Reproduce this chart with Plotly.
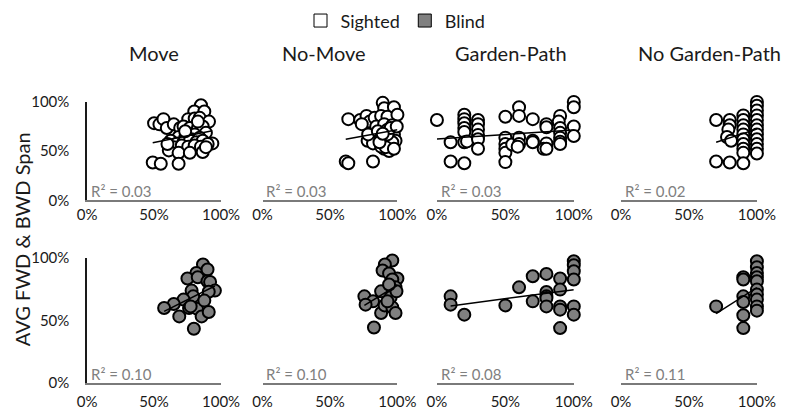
import numpy as np
import plotly.graph_objects as go

conditions = ["Move", "No-Move", "Garden-Path", "No Garden-Path"]
groups = ["Sighted", "Blind"]
r2_sighted = ["R² = 0.03", "R² = 0.03", "R² = 0.03", "R² = 0.02"]
r2_blind = ["R² = 0.10", "R² = 0.10", "R² = 0.08", "R² = 0.11"]
x_tick_vals = [0, 0.5, 1]
y_tick_vals = [0, 0.5, 1]
y_title = "AVG FWD & BWD Span"

# ---- Sighted (values in %) ----
move_sighted_x = [85, 80, 87.5, 50, 54, 57, 59.5, 64.7, 69.5, 75.5, 80.3, 84, 91, 72, 76.7, 82.7, 86.3, 74.3, 80.3, 88.7,
                  68.3, 73.2, 78, 84, 62.4, 67, 72, 76.7, 81.5, 86.3, 93.5, 90, 64.7, 70.7, 75.5, 80.3, 85, 61, 68.3, 76.7,
                  86.3, 88.7, 49, 55, 68.3, 82.7, 73.2, 60]
move_sighted_y = [96.6, 90.3, 90.3, 78.4, 77.2, 82.5, 73.5, 77.2, 73.5, 82.5, 83.2, 83.8, 80, 75.1, 73.5, 73.5, 75.1, 68.6,
                  67, 68.6, 64.4, 63.7, 62.1, 63.7, 60.5, 57.9, 59, 60.5, 59, 60.5, 57.9, 57.3, 54.1, 55.7, 54.6, 55.7,
                  54.6, 50.8, 48.3, 48.3, 49.2, 54.1, 38.5, 37.3, 37.3, 80, 70.2, 57.3]

nomove_sighted_x = [89.1, 90.2, 97.4, 63.6, 72.4, 77.1, 79.5, 83.1, 87.9, 92.6, 100, 84.3, 90.2, 96.2, 77.9, 81.9, 78.3, 85.5,
                    92.6, 97.4, 87.9, 93.8, 98.6, 89.1, 95, 90.2, 93.8, 87.9, 96.2, 92.6, 95, 61.7, 63.6, 81.9, 91.4, 86.7,
                    97.4, 89.1, 99.5, 73.6]
nomove_sighted_y = [99, 93.5, 94.5, 82.5, 81.6, 85.8, 80, 83.8, 85.8, 84.9, 87, 75.1, 77.4, 76.3, 60.5, 57.9, 67, 70.2,
                    71.8, 67, 63.7, 62.1, 60.5, 57.3, 55.7, 52.5, 50.2, 54.6, 59.1, 67, 73.4, 39.5, 37.8, 39.5, 54.1, 59.1,
                    52.5, 67.6, 75.1, 77.4]

gp_sighted_x = [0, 10, 10, 20, 20, 20, 20, 20, 20, 22, 20, 30, 30, 30, 30, 30, 30, 50, 50, 50, 50, 50, 50, 55,
                60, 60, 60, 60, 59, 70, 70, 70, 80, 80, 80, 78, 80, 90, 89, 90, 90, 90, 90, 90, 100, 100, 100, 100]
gp_sighted_y = [81.6, 59, 39.5, 87, 82.5, 78.3, 73.5, 69.5, 59, 59.9, 37.8, 81.6, 77.4, 71.9, 66.5, 62.1, 52.5,
                84.9, 63.7, 57.3, 52.5, 48.3, 38.9, 56.7, 94.5, 85.8, 63.7, 57.3, 54.6, 82.5, 60.5, 59, 77.4, 74.2, 57.9,
                52.5, 52.5, 85.8, 80, 73.5, 68.6, 63.7, 59.5, 57.3, 100, 94.5, 75.1, 65.4]

ngp_sighted_x = [70, 70, 80, 80, 79, 78, 81, 80, 90, 90, 90, 90, 90, 90, 90, 90, 90, 90,
                 100, 100, 100, 100, 100, 100, 100, 100, 100, 100, 100, 100]
ngp_sighted_y = [81.6, 39.5, 81.6, 76.3, 71.9, 64.4, 60.5, 38.5, 86.3, 81.6, 76.3, 71.9, 67, 62.1, 57.3, 52.5, 48.3, 37.8,
                 100, 96.1, 91.2, 86.3, 81.6, 76.3, 71.9, 67, 62.1, 57.3, 52.5, 47.6]

# ---- Blind (values in %) ----
move_blind_x = [86.5, 81.6, 89.9, 74.9, 82.6, 89.9, 91.8, 95.4, 90.8, 78, 79.2, 72, 64.7, 57.5, 76.1, 82, 87.5, 68.8,
                85.5, 90.8, 79.7, 77.3]
move_blind_y = [94.7, 88, 90.7, 83.5, 84.5, 81.3, 80.8, 73.9, 73, 73.9, 69.3, 66.7, 63.2, 60, 60, 59.5, 65.9, 53.3,
                53.3, 56.8, 43.5, 61.3]

nomove_blind_x = [96.2, 90.7, 89, 93.8, 100, 96.2, 98.6, 95, 87.9, 75.5, 81.9, 76.4, 87.9, 90.5, 95, 96.2, 98.6, 92.6,
                  82.6, 99.3, 93.8]
nomove_blind_y = [97.9, 94.7, 89.9, 87.5, 83.5, 82.7, 76.5, 73.3, 73.3, 69.3, 65.3, 62.7, 56, 62.1, 68.5, 60.5, 56, 65.3,
                  44.5, 73.3, 78.7]

gp_blind_x = [10, 10, 20, 50, 60, 70, 70, 80, 80, 80, 80, 80, 90, 90, 90, 90, 90, 100, 100, 100, 100, 100, 100]
gp_blind_y = [69.3, 62.7, 54.7, 62.1, 76.5, 85.3, 65.3, 87.2, 72.8, 69.3, 68, 61.3, 83.5, 74.7, 61.3, 58.7, 44,
              97.3, 94.1, 89.3, 82.7, 61.3, 54.7]

ngp_blind_x = [70, 90, 90, 90, 90, 90, 90, 100, 100, 100, 100, 100, 100, 100, 100, 100, 100]
ngp_blind_y = [61.3, 84.5, 82.7, 69.3, 64.8, 54.2, 44, 97.3, 92.5, 88, 84.5, 81.3, 74.7, 70.7, 66.7, 61.3, 57.9]

sighted_data = [(move_sighted_x, move_sighted_y), (nomove_sighted_x, nomove_sighted_y),
                (gp_sighted_x, gp_sighted_y), (ngp_sighted_x, ngp_sighted_y)]
blind_data = [(move_blind_x, move_blind_y), (nomove_blind_x, nomove_blind_y),
              (gp_blind_x, gp_blind_y), (ngp_blind_x, ngp_blind_y)]

W, H = 800, 419
FONT = "Lato, 'Open Sans', sans-serif"
x_pix = [(80, 219), (262, 402), (443, 585), (634, 775)]
y_pix = [(96, 199), (259, 390)]  # (top=100%, bottom=0%)
x_standoff = [0, 4]
fills = ["#ffffff", "#808080"]

fig = go.Figure()

# legend entries
for g, fc in zip(groups, fills):
    fig.add_trace(go.Scatter(x=[None], y=[None], mode="markers", name=g,
                             marker=dict(symbol="square", size=13, color=fc, line=dict(color="#000", width=1)),
                             showlegend=True, hoverinfo="skip"))

layout_axes = {}
annotations = []
for r, (data, r2s, fc) in enumerate([(sighted_data, r2_sighted, fills[0]), (blind_data, r2_blind, fills[1])]):
    for c in range(4):
        n = r * 4 + c + 1
        xs = np.array(data[c][0], dtype=float) / 100
        ys = np.array(data[c][1], dtype=float) / 100
        xa = "x" if n == 1 else f"x{n}"
        ya = "y" if n == 1 else f"y{n}"
        fig.add_trace(go.Scatter(x=xs, y=ys, mode="markers", xaxis=xa, yaxis=ya, showlegend=False,
                                 cliponaxis=False,
                                 marker=dict(symbol="circle", size=12, color=fc,
                                             line=dict(color="#000", width=2))))
        slope, icpt = np.polyfit(xs, ys, 1)
        lx = np.array([xs.min(), xs.max()])
        fig.add_trace(go.Scatter(x=lx, y=slope * lx + icpt, mode="lines", xaxis=xa, yaxis=ya,
                                 showlegend=False, cliponaxis=False,
                                 line=dict(color="#000", width=1.5)))
        x0, x1 = x_pix[c]
        yt, yb = y_pix[r]
        xkey = "xaxis" if n == 1 else f"xaxis{n}"
        ykey = "yaxis" if n == 1 else f"yaxis{n}"
        layout_axes[xkey] = dict(domain=[x0 / W, x1 / W], anchor=ya, range=[0, 1],
                                 tickvals=x_tick_vals, tickformat=".0%", showgrid=False, zeroline=False,
                                 showline=True, linecolor="#7a7a7a", linewidth=1.5, ticks="",
                                 ticklabelstandoff=x_standoff[r],
                                 tickfont=dict(size=15, color="#1a1a1a", family=FONT))
        layout_axes[ykey] = dict(domain=[1 - yb / H, 1 - yt / H], anchor=xa, range=[0, 1],
                                 tickvals=y_tick_vals, tickformat=".0%", showgrid=False, zeroline=False,
                                 showline=(c == 0), showticklabels=(c == 0), linecolor="#1a1a1a",
                                 linewidth=1.5, ticks="", ticklabelstandoff=13,
                                 tickfont=dict(size=15, color="#1a1a1a", family=FONT))
        annotations.append(dict(text=r2s[c], xref="paper", yref="paper", x=(x0 + 2) / W, y=1 - (yb - 10) / H,
                                xanchor="left", yanchor="middle", showarrow=False,
                                font=dict(size=15, color="#808080", family=FONT)))

title_x = [149, 326, 520, 726]
for t, tx in zip(conditions, title_x):
    annotations.append(dict(text=t, xref="paper", yref="paper", x=tx / W, y=1 - 45 / H,
                            xanchor="center", yanchor="middle", showarrow=False,
                            font=dict(size=20, color="#1a1a1a", family=FONT)))
annotations.append(dict(text=y_title, xref="paper", yref="paper", x=12 / W, y=1 - 240 / H,
                        xanchor="center", yanchor="middle", showarrow=False, textangle=-90,
                        font=dict(size=20, color="#1a1a1a", family=FONT)))

fig.update_layout(width=W, height=H, margin=dict(l=0, r=0, t=0, b=0),
                  paper_bgcolor="white", plot_bgcolor="white",
                  showlegend=True,
                  legend=dict(orientation="h", x=0.5, xanchor="center", y=1 + 8 / H, yanchor="top",
                              font=dict(size=18, color="#1a1a1a", family=FONT), itemwidth=30,
                              bgcolor="rgba(0,0,0,0)", tracegroupgap=0),
                  annotations=annotations, **layout_axes)

fig.write_html("out.html", config={"displayModeBar": False},
               post_script="document.body.style.margin='0px';")
